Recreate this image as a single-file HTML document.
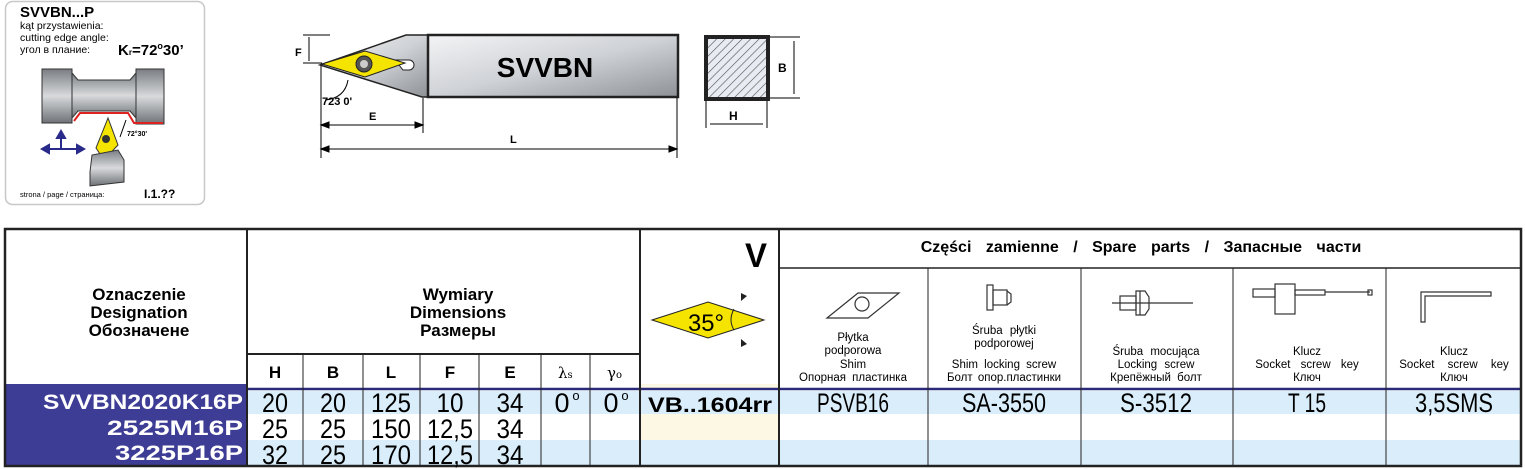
<!DOCTYPE html>
<html><head><meta charset="utf-8"><style>
html,body{margin:0;padding:0;background:#fff;width:1525px;height:469px;overflow:hidden}
svg{display:block}
text{font-family:"Liberation Sans",sans-serif}
.b{font-weight:bold}
</style></head><body>
<svg width="1525" height="469" viewBox="0 0 1525 469" xmlns="http://www.w3.org/2000/svg">
<defs>
<linearGradient id="g1" x1="0" y1="0" x2="1" y2="1">
<stop offset="0" stop-color="#f4f4f6"/><stop offset="0.5" stop-color="#cfd2d6"/><stop offset="1" stop-color="#8e9296"/></linearGradient>
<linearGradient id="g2" x1="0" y1="0" x2="0" y2="1">
<stop offset="0" stop-color="#7a7e82"/><stop offset="0.5" stop-color="#d8dadc"/><stop offset="1" stop-color="#6e7276"/></linearGradient>
<pattern id="h" width="6" height="6" patternUnits="userSpaceOnUse" patternTransform="rotate(45)">
<rect width="6" height="6" fill="#e8ecf2"/><line x1="0" y1="0" x2="0" y2="6" stroke="#555" stroke-width="1.2"/></pattern>
</defs>

<rect x="5.5" y="1.5" width="199" height="203" rx="7" fill="#fff" stroke="#c8c8c8" stroke-width="1.5"/>
<text x="20" y="17" class="b" font-size="15">SVVBN...P</text>
<text x="20" y="29" font-size="10.5">kąt przystawienia:</text>
<text x="20" y="41" font-size="10.5">cutting edge angle:</text>
<text x="20" y="53" font-size="10.5">угол в плание:</text>
<text x="118" y="55" class="b" font-size="15">K<tspan font-size="8">r</tspan>=72<tspan font-size="9" dy="-6">o</tspan><tspan dy="6">30’</tspan></text>
<rect x="42" y="69" width="30" height="54" fill="url(#g2)" stroke="#333"/>
<rect x="136" y="69" width="28" height="55" fill="url(#g2)" stroke="#333"/>
<polygon points="72,73 78,80 130,80 136,73 136,118 130,111 78,111 72,118" fill="url(#g2)" stroke="#333"/>
<polyline points="74,121 80,113 128,113 134,123 163,123" fill="none" stroke="#d22" stroke-width="2"/>
<polygon points="108,118 118,145 104,160 96,148" fill="#f5e400" stroke="#333"/>
<circle cx="106" cy="139" r="4" fill="#333"/>
<polygon points="90,172 92,155 118,150 124,160 124,182 90,186" fill="url(#g2)" stroke="#333"/>
<text x="127" y="136" class="b" font-size="7">72°30'</text>
<path d="M120 137 L126 120" stroke="#000"/>
<g stroke="#2a2a8a" stroke-width="2" fill="#2a2a8a">
<line x1="46" y1="149" x2="80" y2="149"/><line x1="61" y1="149" x2="61" y2="135"/>
<polygon points="42,149 49,145 49,153"/><polygon points="84,149 77,145 77,153"/><polygon points="61,131 57,138 65,138"/></g>
<text x="20" y="197" font-size="7.5">strona / page / страница:</text>
<text x="144" y="198" class="b" font-size="12">I.1.??</text>

<polygon points="320,65 406,35 428,35 428,97 422,97" fill="url(#g1)" stroke="#222" stroke-width="1.5"/>
<rect x="428" y="35" width="250" height="62" fill="url(#g1)" stroke="#222" stroke-width="2.5"/>
<text x="545" y="77" class="b" font-size="28" text-anchor="middle">SVVBN</text>
<path d="M395 60 h14 a5 5 0 0 1 0 10 h-6 z" fill="#fff" stroke="#222"/>
<polygon points="322,64 365,51 405,63 365,77" fill="#f5e400" stroke="#222"/>
<circle cx="364" cy="64" r="8" fill="#555" stroke="#222"/>
<circle cx="364" cy="64" r="4" fill="#ccc"/>
<g stroke="#000" stroke-width="1" fill="#000">
<line x1="303" y1="35" x2="330" y2="35"/><line x1="303" y1="63" x2="322" y2="63"/><line x1="309" y1="37" x2="309" y2="61"/>
<line x1="321" y1="66" x2="321" y2="158"/><line x1="423" y1="98" x2="423" y2="133"/><line x1="677" y1="98" x2="677" y2="158"/>
<line x1="325" y1="125" x2="419" y2="125"/><polygon points="321,125 329,122 329,128"/><polygon points="423,125 415,122 415,128"/>
<line x1="325" y1="149" x2="673" y2="149"/><polygon points="321,149 329,146 329,152"/><polygon points="677,149 669,146 669,152"/>
<path d="M325 100 Q345 98 348 80" fill="none"/>
</g>
<text x="295" y="56" class="b" font-size="11">F</text>
<text x="322" y="105" class="b" font-size="11">723 0'</text>
<text x="369" y="120" class="b" font-size="11">E</text>
<text x="510" y="143" class="b" font-size="11">L</text>
<rect x="706" y="37" width="62" height="62" fill="url(#h)" stroke="#222" stroke-width="4"/>
<g stroke="#000" fill="#000">
<line x1="770" y1="37" x2="800" y2="37"/><line x1="770" y1="98" x2="800" y2="98"/><line x1="794" y1="41" x2="794" y2="94"/>
<line x1="706" y1="101" x2="706" y2="128"/><line x1="767" y1="101" x2="767" y2="128"/><line x1="710" y1="124" x2="763" y2="124"/>
</g>
<text x="778" y="72" class="b" font-size="12">B</text>
<text x="729" y="120" class="b" font-size="12">H</text>

<rect x="5" y="388" width="242" height="78" fill="#3d3d95"/>
<rect x="5" y="384" width="242" height="6" fill="#3d3d95"/>
<rect x="247" y="391" width="1274" height="23" fill="#d9eefa"/>
<rect x="247" y="440" width="1274" height="26" fill="#d9eefa"/>
<rect x="640" y="384" width="139" height="6" fill="#fdf8e4"/>
<rect x="640" y="414" width="139" height="26" fill="#fdf8e4"/>
<line x1="247" y1="389" x2="1521" y2="389" stroke="#2a2a7a" stroke-width="2.5"/>
<g stroke="#222" stroke-width="1" fill="none">
<rect x="5" y="229" width="1516" height="237" stroke-width="2.5"/>
<line x1="247" y1="229" x2="247" y2="466" stroke-width="2"/>
<line x1="640" y1="229" x2="640" y2="466" stroke-width="2"/>
<line x1="779" y1="229" x2="779" y2="466" stroke-width="2"/>
<line x1="247" y1="354" x2="640" y2="354" stroke-width="2"/>
<line x1="779" y1="268" x2="1521" y2="268" stroke-width="1.5"/>
<line x1="303" y1="354" x2="303" y2="466"/><line x1="363" y1="354" x2="363" y2="466"/>
<line x1="420" y1="354" x2="420" y2="466"/><line x1="479" y1="354" x2="479" y2="466"/>
<line x1="541" y1="354" x2="541" y2="466"/><line x1="590" y1="354" x2="590" y2="466"/>
<line x1="928" y1="268" x2="928" y2="466"/><line x1="1081" y1="268" x2="1081" y2="466"/>
<line x1="1233" y1="268" x2="1233" y2="466"/><line x1="1386" y1="268" x2="1386" y2="466"/>
</g>

<g class="b" text-anchor="middle" font-weight="bold">
<text x="139" y="300" font-size="17">Oznaczenie</text>
<text x="139" y="318" font-size="17">Designation</text>
<text x="139" y="336" font-size="17">Обозначене</text>
<text x="458" y="300" font-size="17">Wymiary</text>
<text x="458" y="318" font-size="17">Dimensions</text>
<text x="458" y="336" font-size="17">Размеры</text>
<text x="275" y="378" font-size="17">H</text>
<text x="333" y="378" font-size="17">B</text>
<text x="391" y="378" font-size="17">L</text>
<text x="450" y="378" font-size="17">F</text>
<text x="510" y="378" font-size="17">E</text>
<text x="1141" y="252" font-size="16" style="word-spacing:10px">Części zamienne / Spare parts / Запасные части</text>
</g>
<text x="558" y="378" font-size="15" style="font-family:'DejaVu Serif'">λ<tspan font-size="10">s</tspan></text>
<text x="607" y="378" font-size="15" style="font-family:'DejaVu Serif'">γ<tspan font-size="10">o</tspan></text>
<text x="767" y="267" class="b" font-size="34" text-anchor="end" textLength="22" lengthAdjust="spacingAndGlyphs">V</text>
<polygon points="652,320 708,302 764,320 708,338" fill="#f5e400" stroke="#222"/>
<text x="706" y="331" font-size="24" text-anchor="middle" textLength="36" lengthAdjust="spacingAndGlyphs">35°</text>
<path d="M734 309 Q728 320 734 330" fill="none" stroke="#222"/>
<polygon points="741,293 747,296 741,301" fill="#222"/><polygon points="741,339 747,344 741,347" fill="#222"/>

<g stroke="#333" fill="none" stroke-width="1.2">
<polygon points="827,318 858,293 899,293 868,318"/><circle cx="862" cy="304" r="7"/>
<rect x="987" y="285" width="6" height="25"/><rect x="993" y="290" width="14" height="15"/><path d="M1007 291 l4 3 v8 l-4 3"/>
<line x1="1112" y1="303" x2="1193" y2="303"/><rect x="1120" y="296" width="16" height="14"/><path d="M1136 291 h9 l4 6 v12 l-4 6 h-9 z"/><line x1="1140" y1="291" x2="1140" y2="315"/>
<rect x="1253" y="289" width="22" height="8"/><rect x="1275" y="284" width="20" height="30"/><rect x="1295" y="290" width="30" height="5"/><line x1="1325" y1="292" x2="1370" y2="292"/><rect x="1368" y="290" width="4" height="5"/>
<path d="M1421 292 h70 v4 h-66 v26 h-4 z"/>
</g>
<g font-size="11.5" text-anchor="middle">
<text x="853" y="341">Płytka</text><text x="853" y="354">podporowa</text><text x="853" y="368">Shim</text><text x="853" y="381" style="word-spacing:3px">Опорная пластинка</text>
<text x="1004" y="334" style="word-spacing:4px">Śruba płytki</text><text x="1004" y="347">podporowej</text><text x="1004" y="368" style="word-spacing:3px">Shim locking screw</text><text x="1004" y="381" style="word-spacing:2px">Болт опор.пластинки</text>
<text x="1156" y="355" style="word-spacing:4px">Śruba mocująca</text><text x="1156" y="368" style="word-spacing:4px">Locking screw</text><text x="1156" y="381" style="word-spacing:3px">Крепёжный болт</text>
<text x="1307" y="355">Klucz</text><text x="1307" y="368" style="word-spacing:7px">Socket screw key</text><text x="1307" y="381">Ключ</text>
<text x="1454" y="355">Klucz</text><text x="1454" y="368" style="word-spacing:10px">Socket screw key</text><text x="1454" y="381">Ключ</text>
</g>

<g class="b" fill="#fff" text-anchor="end" font-weight="bold" font-size="21">
<text x="243" y="409" textLength="200" lengthAdjust="spacingAndGlyphs">SVVBN2020K16P</text>
<text x="243" y="435" textLength="136" lengthAdjust="spacingAndGlyphs">2525M16P</text>
<text x="243" y="460" textLength="128" lengthAdjust="spacingAndGlyphs">3225P16P</text>
</g>
<g font-size="27" text-anchor="middle">
<text x="275" y="412" textLength="26" lengthAdjust="spacingAndGlyphs">20</text><text x="333" y="412" textLength="26" lengthAdjust="spacingAndGlyphs">20</text><text x="391" y="412" textLength="40" lengthAdjust="spacingAndGlyphs">125</text><text x="450" y="412" textLength="27" lengthAdjust="spacingAndGlyphs">10</text><text x="510" y="412" textLength="27" lengthAdjust="spacingAndGlyphs">34</text>
<text x="562" y="412" font-size="27">0</text><text x="576" y="400" font-size="13">o</text>
<text x="611" y="412" font-size="27">0</text><text x="625" y="400" font-size="13">o</text>
<text x="275" y="438" textLength="26" lengthAdjust="spacingAndGlyphs">25</text><text x="333" y="438" textLength="26" lengthAdjust="spacingAndGlyphs">25</text><text x="391" y="438" textLength="40" lengthAdjust="spacingAndGlyphs">150</text><text x="450" y="438" textLength="46" lengthAdjust="spacingAndGlyphs">12,5</text><text x="510" y="438" textLength="27" lengthAdjust="spacingAndGlyphs">34</text>
<text x="275" y="464" textLength="26" lengthAdjust="spacingAndGlyphs">32</text><text x="333" y="464" textLength="26" lengthAdjust="spacingAndGlyphs">25</text><text x="391" y="464" textLength="40" lengthAdjust="spacingAndGlyphs">170</text><text x="450" y="464" textLength="46" lengthAdjust="spacingAndGlyphs">12,5</text><text x="510" y="464" textLength="27" lengthAdjust="spacingAndGlyphs">34</text>
<text x="853" y="412" textLength="72" lengthAdjust="spacingAndGlyphs">PSVB16</text><text x="1004" y="412" textLength="84" lengthAdjust="spacingAndGlyphs">SA-3550</text><text x="1156" y="412" textLength="72" lengthAdjust="spacingAndGlyphs">S-3512</text><text x="1307" y="412" textLength="38" lengthAdjust="spacingAndGlyphs">T 15</text><text x="1454" y="412" textLength="78" lengthAdjust="spacingAndGlyphs">3,5SMS</text>
</g>
<text x="710" y="412" class="b" font-size="21" text-anchor="middle" textLength="124" lengthAdjust="spacingAndGlyphs">VB..1604rr</text>
</svg>
</body></html>
